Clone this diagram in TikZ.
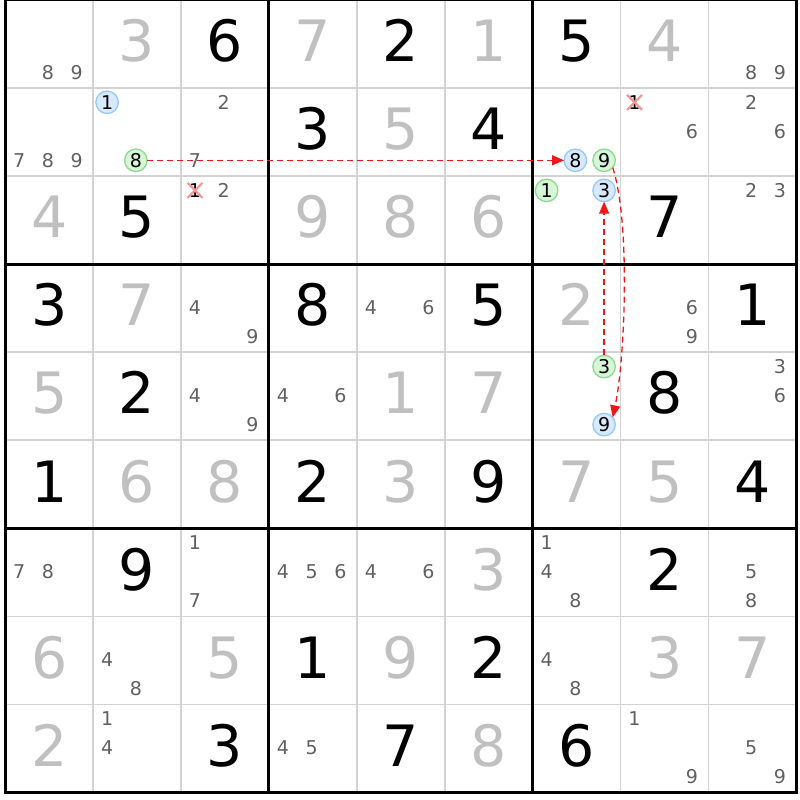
\documentclass[tikz,border=0pt]{standalone}
\usepackage{fontspec}
\setmainfont{DejaVu Sans}
\usepackage{xcolor}
\usepackage{tikz}
\usetikzlibrary{positioning,matrix,calc,shapes.misc,arrows.meta}
\definecolor{sudokugrid}{RGB}{210,210,210}
\definecolor{sudokusolved}{RGB}{192,192,192}
\definecolor{sudokucand}{RGB}{96,96,96}
\definecolor{markblue}{RGB}{215,233,252}
\definecolor{markblueline}{RGB}{152,200,245}
\definecolor{markgreen}{RGB}{215,245,215}
\definecolor{markgreenline}{RGB}{140,218,140}
\definecolor{linkred}{RGB}{238,24,24}
\definecolor{strikered}{RGB}{244,150,150}
\newcommand{\cand}[4][]{%
    \pgfmathsetmacro{\candx}{14+28.75*mod(#4-1,3)}%
    \pgfmathsetmacro{\candy}{14.5+29*div(#4-1,3)}%
    \node[candidate,#1] (r#2c#3-#4) at ($(m-#2-#3.north west)+(\candx,\candy)$) {#4};%
}
\newcommand{\cands}[3]{\foreach \cd in {#3}{\cand{#1}{#2}{\cd}}}
\tikzset{
    sudoku cell/.style={
        rectangle,
        anchor=center,
        minimum width=87.9pt,
        minimum height=88.1pt,
        inner sep=0pt,
        outer sep=0pt,
        draw=sudokugrid,
        line width=1.6pt,
        text=black,
        text height=41.5pt,
        text depth=6pt,
        font=\fontsize{57}{57}\selectfont,
    },
    solved/.style={text=sudokusolved},
    candidate/.style={
        rectangle,
        inner sep=0pt,
        outer sep=0pt,
        text=sudokucand,
        font=\fontsize{19}{19}\selectfont,
    },
    blue mark/.style={circle, minimum size=22.5pt, draw=markblueline, fill=markblue, line width=1.3pt, text=black},
    green mark/.style={circle, minimum size=22.5pt, draw=markgreenline, fill=markgreen, line width=1.3pt, text=black},
    struck/.style={cross out, minimum size=15pt, draw=strikered, line width=2.2pt, text=black},
    box line/.style={line width=3pt, draw=black},
    link/.style={draw=linkred, line width=1.3pt, dash pattern=on 6pt off 4pt, -{Triangle[length=12pt,width=10pt]}},
}
\begin{document}
\begin{tikzpicture}[x=1pt,y=-1pt]
    \useasboundingbox (0,0) rectangle (800,800);
    %Grid of cells, given digits in black, solved ones in gray
    \matrix[matrix of nodes,
            column sep=-1.6pt,
            row sep=-1.6pt,
            inner sep=0pt,
            nodes={sudoku cell},
            nodes in empty cells,
            anchor=north west
            ] (m) at (4.2,-1.3) {
         & |[solved]|3 & 6 & |[solved]|7 & 2 & |[solved]|1 & 5 & |[solved]|4 & \\
         & & & 3 & |[solved]|5 & 4 & & & \\
        |[solved]|4 & 5 & & |[solved]|9 & |[solved]|8 & |[solved]|6 & & 7 & \\
        3 & |[solved]|7 & & 8 & & 5 & |[solved]|2 & & 1 \\
        |[solved]|5 & 2 & & & |[solved]|1 & |[solved]|7 & & 8 & \\
        1 & |[solved]|6 & |[solved]|8 & 2 & |[solved]|3 & 9 & |[solved]|7 & |[solved]|5 & 4 \\
         & 9 & & & & |[solved]|3 & & 2 & \\
        |[solved]|6 & & |[solved]|5 & 1 & |[solved]|9 & 2 & & |[solved]|3 & |[solved]|7 \\
        |[solved]|2 & & 3 & & 7 & |[solved]|8 & 6 & & \\
        };

    \draw[box line] (m-1-1.north west) rectangle (m-9-9.south east);
    \draw[box line] (m-1-4.north west) -- (m-9-4.south west);
    \draw[box line] (m-1-7.north west) -- (m-9-7.south west);
    \draw[box line] (m-4-1.north west) -- (m-4-9.north east);
    \draw[box line] (m-7-1.north west) -- (m-7-9.north east);

    \cands{1}{1}{8,9}
    \cands{1}{9}{8,9}
    \cands{2}{1}{7,8,9}
    \cand[blue mark]{2}{2}{1}
    \cand[green mark]{2}{2}{8}
    \cands{2}{3}{2,7}
    \cand[blue mark]{2}{7}{8}
    \cand[green mark]{2}{7}{9}
    \cand[struck]{2}{8}{1}
    \cands{2}{8}{6}
    \cands{2}{9}{2,6}
    \cand[struck]{3}{3}{1}
    \cands{3}{3}{2}
    \cand[green mark]{3}{7}{1}
    \cand[blue mark]{3}{7}{3}
    \cands{3}{9}{2,3}
    \cands{4}{3}{4,9}
    \cands{4}{5}{4,6}
    \cands{4}{8}{6,9}
    \cands{5}{3}{4,9}
    \cands{5}{4}{4,6}
    \cand[green mark]{5}{7}{3}
    \cand[blue mark]{5}{7}{9}
    \cands{5}{9}{3,6}
    \cand[yshift=29pt]{7}{1}{7}
    \cand[yshift=29pt]{7}{1}{8}
    \cands{7}{3}{1,7}
    \cands{7}{4}{4,5,6}
    \cands{7}{5}{4,6}
    \cands{7}{7}{1,4,8}
    \cands{7}{9}{5,8}
    \cands{8}{2}{4,8}
    \cands{8}{7}{4,8}
    \cands{9}{2}{1,4}
    \cands{9}{4}{4,5}
    \cands{9}{8}{1,9}
    \cands{9}{9}{5,9}

    \draw[link] (r2c2-8) -- (r2c7-8);
    \draw[link] (r5c7-3) -- (r3c7-3);
    \draw[link] (r2c7-9.-40) to[out=-72,in=78,looseness=0.6] (r5c7-9.40);
\end{tikzpicture}
\end{document}
